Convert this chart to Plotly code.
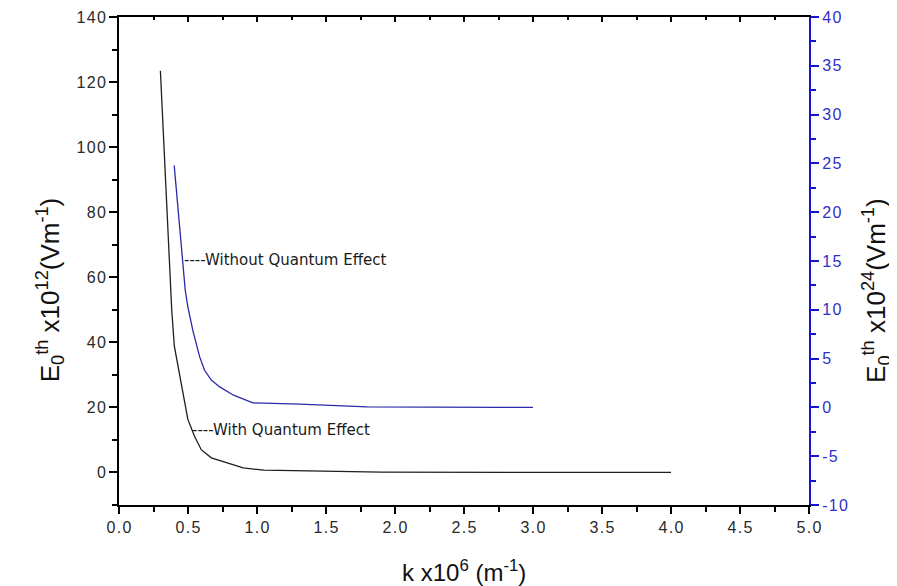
import plotly.graph_objects as go

# With quantum effect (left axis, x10^12 V/m)
k_with = [0.30, 0.365, 0.382, 0.401, 0.462, 0.499, 0.547, 0.596, 0.669, 0.73, 0.90, 1.05, 1.48, 1.90, 3.0, 4.0]
e_with = [123.5, 65.4, 50.0, 38.8, 24.5, 16.3, 11.1, 7.0, 4.5, 3.7, 1.4, 0.7, 0.4, 0.1, 0.0, 0.0]

# Without quantum effect (right axis, x10^24 V/m)
k_without = [0.40, 0.462, 0.48, 0.499, 0.535, 0.584, 0.62, 0.669, 0.73, 0.83, 0.97, 1.31, 1.55, 1.80, 2.77, 3.0]
e_without = [24.8, 14.7, 12.0, 10.3, 7.9, 5.2, 3.8, 2.8, 2.1, 1.25, 0.47, 0.34, 0.24, 0.06, 0.0, 0.0]

x_ticks = [0.0, 0.5, 1.0, 1.5, 2.0, 2.5, 3.0, 3.5, 4.0, 4.5, 5.0]
y_left_ticks = [0, 20, 40, 60, 80, 100, 120, 140]
y_right_ticks = [-10, -5, 0, 5, 10, 15, 20, 25, 30, 35, 40]


def spaced(s):
    return "\u200a".join(s)


BLUE_AXIS = "#1414d2"
BLUE_LINE = "#2a2aa8"
TICK_FONT = dict(family="Liberation Sans, Arial", size=16, color="#2a2a2a")

fig = go.Figure()
fig.add_trace(go.Scatter(x=k_with, y=e_with, mode="lines",
                         line=dict(color="#1e1e1e", width=1.3), showlegend=False))
fig.add_trace(go.Scatter(x=k_without, y=e_without, mode="lines", yaxis="y2",
                         line=dict(color=BLUE_LINE, width=1.3), showlegend=False))
# invisible trace to make the top axis render
fig.add_trace(go.Scatter(x=[0], y=[0], xaxis="x2", mode="markers",
                         marker=dict(opacity=0), showlegend=False, hoverinfo="skip"))

fig.update_layout(
    width=889, height=578,
    margin=dict(l=111, r=88, t=9, b=81),
    paper_bgcolor="white", plot_bgcolor="white",
    xaxis=dict(range=[0, 5], tickvals=x_ticks, ticktext=[spaced(f"{v:.1f}") for v in x_ticks],
               ticks="outside", ticklen=7, tickwidth=2, tickcolor="black",
               minor=dict(dtick=0.25, ticks="outside", ticklen=5, tickwidth=2, tickcolor="black"),
               showline=True, linewidth=2, linecolor="black", showgrid=False, zeroline=False,
               tickfont=TICK_FONT, automargin=False),
    xaxis2=dict(range=[0, 5], overlaying="x", side="top", anchor="y",
                tickvals=x_ticks, showticklabels=False,
                ticks="inside", ticklen=5, tickwidth=2, tickcolor="black",
                minor=dict(dtick=0.25, ticks="inside", ticklen=3, tickwidth=2, tickcolor="black"),
                showline=True, linewidth=2, linecolor="black", showgrid=False, zeroline=False,
                automargin=False),
    yaxis=dict(range=[-10, 140], tickvals=y_left_ticks, ticktext=[spaced(str(v)) for v in y_left_ticks],
               ticks="outside", ticklen=8, tickwidth=2, tickcolor="black",
               minor=dict(dtick=10, ticks="outside", ticklen=5, tickwidth=2, tickcolor="black"),
               showline=True, linewidth=2, linecolor="black", showgrid=False, zeroline=False,
               tickfont=TICK_FONT, automargin=False),
    yaxis2=dict(range=[-10, 40], overlaying="y", side="right", anchor="x",
                tickvals=y_right_ticks, ticktext=[spaced(str(v)) for v in y_right_ticks],
                ticks="outside", ticklen=8, tickwidth=2, tickcolor=BLUE_AXIS,
                minor=dict(dtick=2.5, ticks="outside", ticklen=5, tickwidth=2, tickcolor=BLUE_AXIS),
                showline=True, linewidth=2, linecolor=BLUE_AXIS, showgrid=False, zeroline=False,
                tickfont=dict(family="Liberation Sans, Arial", size=16, color="#3030c8"),
                automargin=False),
)

TITLE_FONT = dict(family="Liberation Sans, Arial", size=26, color="#111111")
fig.add_annotation(text="E<sub>0</sub><sup>th</sup> x10<sup>12</sup>(Vm<sup>-1</sup>)",
                   xref="paper", yref="paper", x=-0.1, y=0.44, textangle=-90,
                   showarrow=False, font=TITLE_FONT, xanchor="center", yanchor="middle")
fig.add_annotation(text="E<sub>0</sub><sup>th</sup> x10<sup>24</sup>(Vm<sup>-1</sup>)",
                   xref="paper", yref="paper", x=1.098, y=0.44, textangle=-90,
                   showarrow=False, font=TITLE_FONT, xanchor="center", yanchor="middle")
fig.add_annotation(text="k x10<sup>6</sup> (m<sup>-1</sup>)",
                   xref="paper", yref="paper", x=0.5, y=-0.135,
                   showarrow=False, font=dict(family="Liberation Sans, Arial", size=24, color="#111111"),
                   xanchor="center", yanchor="middle")

NOTE_FONT = dict(family="DejaVu Sans", size=15, color="#1a1a1a")
fig.add_annotation(text="----Without Quantum Effect", x=0.455, y=65.4, xref="x", yref="y",
                   showarrow=False, xanchor="left", yanchor="middle", font=NOTE_FONT)
fig.add_annotation(text="----With Quantum Effect", x=0.515, y=13.0, xref="x", yref="y",
                   showarrow=False, xanchor="left", yanchor="middle", font=NOTE_FONT)

fig.write_html("out.html")
